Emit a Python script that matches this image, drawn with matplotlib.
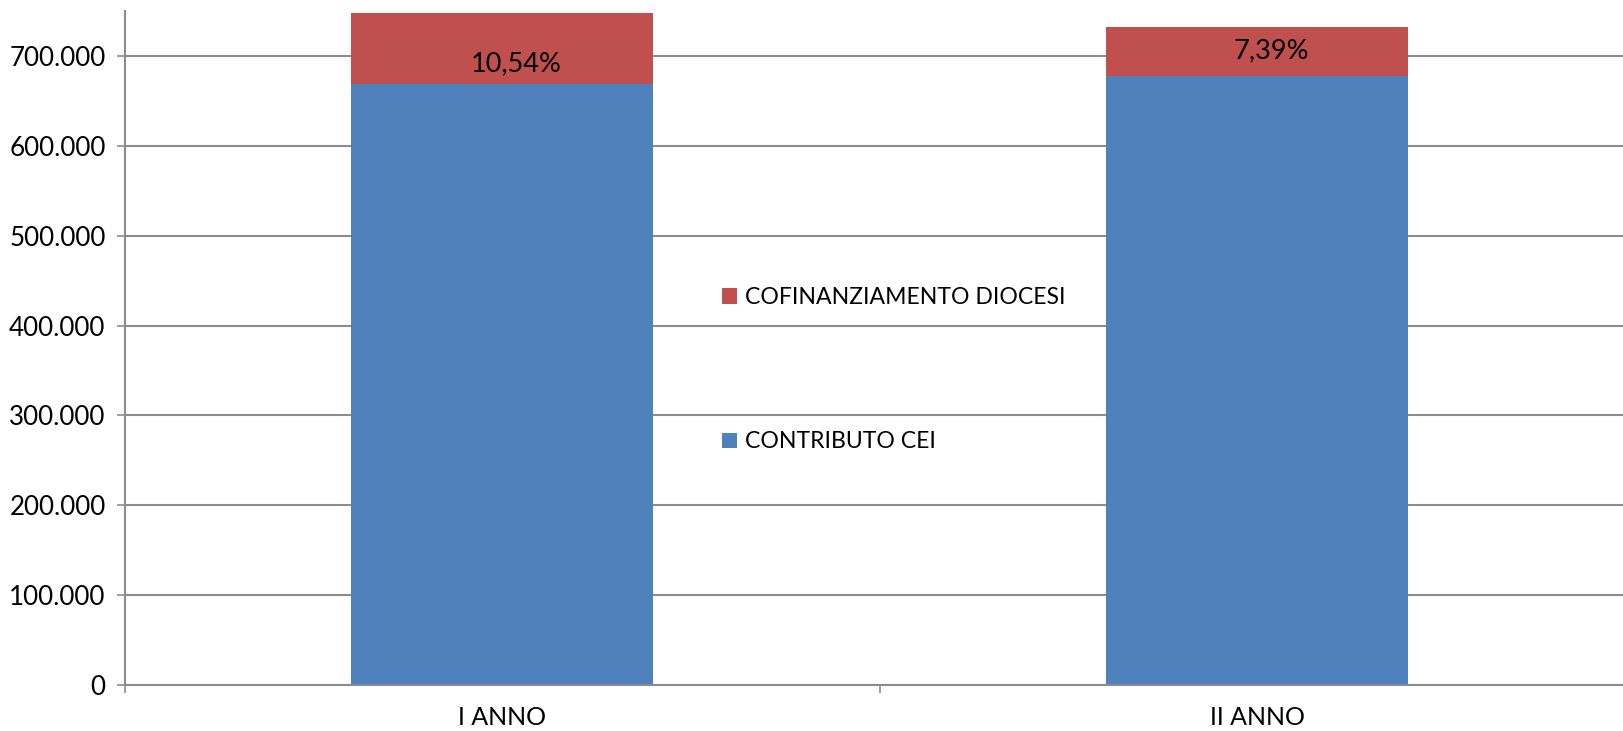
import matplotlib
matplotlib.use("Agg")
import matplotlib.pyplot as plt
from matplotlib.ticker import FixedLocator, FuncFormatter

plt.rcParams['font.family'] = ['Lato', 'DejaVu Sans']

# Values
categories = ['I ANNO', 'II ANNO']
contributo_cei = [669000, 678200]
cofinanziamento = [78800, 54100]
# where the percentage labels sit (y value)
label_y = [690800, 705200]

blue = '#4F81BD'
red = '#C0504D'
grid_gray = '#8C8C8C'

fig = plt.figure(figsize=(16.24, 7.31), dpi=100)
ax = fig.add_axes([125 / 1624, 1 - 685 / 731, 1510 / 1624, 674 / 731])

x = list(range(len(categories)))
ax.bar(x, contributo_cei, width=0.4, color=blue, label='CONTRIBUTO CEI', zorder=2)
ax.bar(x, cofinanziamento, width=0.4, bottom=contributo_cei, color=red,
       label='COFINANZIAMENTO DIOCESI', zorder=2)

# percentage of diocese co-financing on total
for xi, cei, dio, ly in zip(x, contributo_cei, cofinanziamento, label_y):
    pct = dio / (cei + dio) * 100
    txt = f'{pct:.2f}%'.replace('.', ',')
    ax.text(xi + 0.018, ly, txt, ha='center', va='center', fontsize=19.5,
            color='black', zorder=3)

ax.set_xlim(-0.5, 1.5)
ax.set_ylim(0, 750000)

ax.yaxis.set_major_locator(FixedLocator(range(0, 800000, 100000)))
ax.yaxis.set_major_formatter(FuncFormatter(lambda v, p: f'{int(v):,}'.replace(',', '.')))
ax.grid(axis='y', color=grid_gray, linewidth=1.5, zorder=1)

ax.set_xticks(x)
ax.set_xticklabels(categories)
ax.set_xticks([-0.5, 0.5, 1.5], minor=True)
ax.tick_params(axis='x', which='major', length=0, pad=15, labelsize=18)
ax.tick_params(axis='x', which='minor', length=6, width=1.2, color=grid_gray, direction='out')
ax.tick_params(axis='y', length=6, width=1.2, color=grid_gray, pad=8, labelsize=18.7)

for side in ['top', 'right']:
    ax.spines[side].set_visible(False)
for side in ['left', 'bottom']:
    ax.spines[side].set_color(grid_gray)
    ax.spines[side].set_linewidth(1.5)

handles, labels = ax.get_legend_handles_labels()
ax.legend(handles[::-1], labels[::-1], loc='upper left',
          bbox_to_anchor=(722 / 1624, 1 - 287 / 731), bbox_transform=fig.transFigure,
          frameon=False, fontsize=16.6, handlelength=0.65, handleheight=0.65,
          handletextpad=0.35, labelspacing=5.35, borderpad=0, borderaxespad=0)

fig.savefig('out.png', dpi=100)
